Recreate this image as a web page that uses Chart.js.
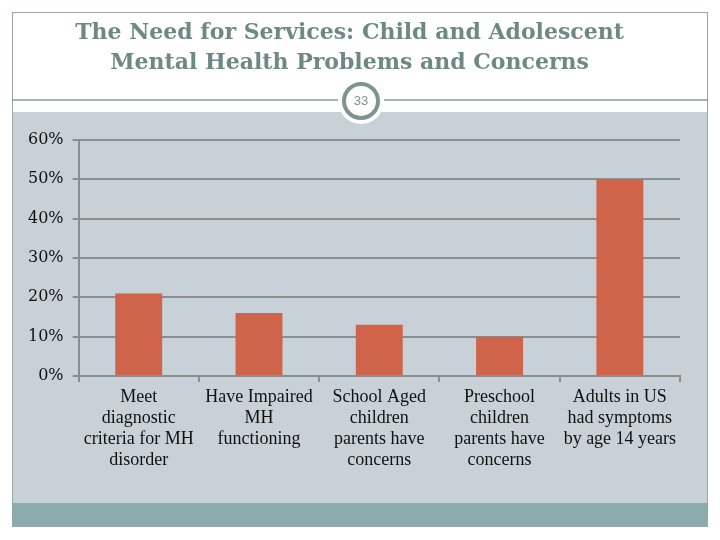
<!DOCTYPE html>
<html>
<head>
  <script src="https://cdn.jsdelivr.net/npm/chart.js@4/dist/chart.umd.min.js"></script>
  <style>
    body { margin: 0; background: #fff; }
  </style>
</head>
<body>

<canvas id="needChart" width="720" height="540"></canvas>

<script>
var categories = [
  ["Meet", "diagnostic", "criteria for MH", "disorder"],
  ["Have Impaired", "MH", "functioning"],
  ["School Aged", "children", "parents have", "concerns"],
  ["Preschool", "children", "parents have", "concerns"],
  ["Adults in US", "had symptoms", "by age 14 years"]
];
var percentages = [21, 16, 13, 10, 50];
var titleLines = ["The Need for Services: Child and Adolescent", "Mental Health Problems and Concerns"];
var slideNumber = "33";

// slide background: white header, rule with page circle, grey body, teal footer
var slideBackground = {
  id: "slideBackground",
  beforeDraw: function(chart) {
    var c = chart.ctx;
    c.save();
    c.fillStyle = "#ffffff";
    c.fillRect(0, 0, 720, 540);
    c.fillStyle = "#c7d1d7";
    c.fillRect(12, 112, 696, 391);
    c.fillStyle = "#8aacac";
    c.fillRect(12, 503, 696, 24);
    c.strokeStyle = "#9aa7a7";
    c.lineWidth = 1;
    c.strokeRect(12.5, 12.5, 695, 514);
    c.strokeStyle = "#8a9a9a";
    c.lineWidth = 1.5;
    c.beginPath();
    c.moveTo(12, 100);
    c.lineTo(708, 100);
    c.stroke();
    // page number circle
    c.fillStyle = "#ffffff";
    c.beginPath();
    c.arc(361, 101, 23, 0, Math.PI * 2);
    c.fill();
    c.strokeStyle = "#7f9393";
    c.lineWidth = 4;
    c.beginPath();
    c.arc(361, 101, 17, 0, Math.PI * 2);
    c.stroke();
    c.fillStyle = "#7f9393";
    c.font = "13px 'Liberation Sans'";
    c.textAlign = "center";
    c.textBaseline = "middle";
    c.fillText(slideNumber, 361, 101);
    c.restore();
  }
};

var ctx = document.getElementById("needChart").getContext("2d");
var needChart = new Chart(ctx, {
  type: "bar",
  data: {
    labels: categories,
    datasets: [{
      data: percentages,
      backgroundColor: "#d0644a",
      barPercentage: 0.39,
      categoryPercentage: 1
    }]
  },
  plugins: [slideBackground],
  options: {
    responsive: false,
    animation: false,
    layout: { padding: { left: 19, right: 40, top: 0, bottom: 64 } },
    plugins: {
      legend: { display: false },
      tooltip: { enabled: false },
      title: {
        display: true,
        text: titleLines,
        color: "#6e8886",
        font: { family: "'DejaVu Serif', serif", size: 22, weight: "bold", lineHeight: "30px" },
        padding: { top: 18, bottom: 62 }
      }
    },
    scales: {
      x: {
        grid: { drawOnChartArea: false, drawTicks: true, tickLength: 6, color: "#8a8e90", lineWidth: 2 },
        border: { color: "#8a8e90", width: 2 },
        ticks: {
          color: "#111",
          maxRotation: 0,
          autoSkip: false,
          padding: 5,
          font: { family: "'Liberation Serif', serif", size: 18, lineHeight: "21px" }
        }
      },
      y: {
        min: 0,
        max: 60,
        grid: { color: "#8a8e90", lineWidth: 2, tickLength: 6 },
        border: { color: "#8a8e90", width: 2 },
        ticks: {
          stepSize: 10,
          color: "#111",
          padding: 9,
          font: { family: "'DejaVu Serif', serif", size: 16 },
          callback: function(v) { return v + "%"; }
        }
      }
    }
  }
});
</script>

</body>
</html>
